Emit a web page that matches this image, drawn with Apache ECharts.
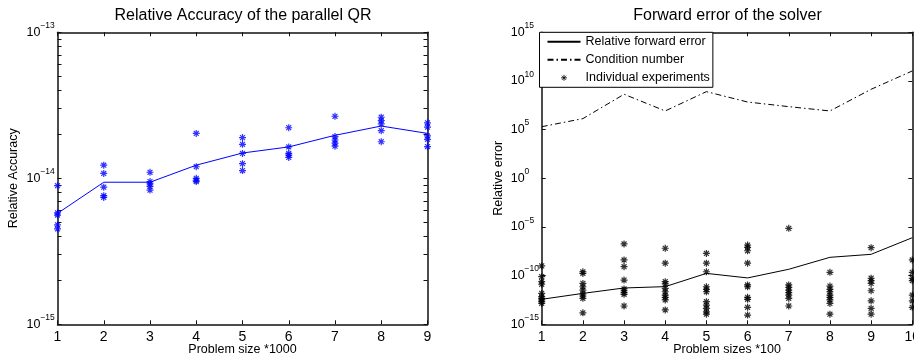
<!DOCTYPE html>
<html><head><meta charset="utf-8">
<script src="https://cdn.jsdelivr.net/npm/echarts@6/dist/echarts.min.js"></script>
<style>html,body{margin:0;padding:0;background:#fff}#c{width:914px;height:360px}</style>
</head><body><div id="c"></div>
<script>
// ---- data (left: parallel QR accuracy) ----
const leftSizes = [1, 2, 3, 4, 5, 6, 7, 8, 9];
const leftMean = [5.75e-15, 9.4e-15, 9.4e-15, 1.23e-14, 1.49e-14, 1.64e-14, 1.97e-14, 2.28e-14, 2.03e-14];
const leftRuns = [
  [8.9e-15, 5.8e-15, 5.6e-15, 4.8e-15, 4.5e-15],
  [1.23e-14, 1.08e-14, 8.7e-15, 7.6e-15, 7.4e-15],
  [1.10e-14, 9.5e-15, 9.15e-15, 8.8e-15, 8.3e-15],
  [2.03e-14, 1.20e-14, 1.0e-14, 9.7e-15, 9.5e-15],
  [1.90e-14, 1.71e-14, 1.48e-14, 1.26e-14, 1.13e-14],
  [2.22e-14, 1.64e-14, 1.48e-14, 1.44e-14, 1.39e-14],
  [2.66e-14, 1.93e-14, 1.83e-14, 1.74e-14, 1.66e-14],
  [2.62e-14, 2.48e-14, 2.36e-14, 2.12e-14, 1.78e-14],
  [2.40e-14, 2.24e-14, 1.95e-14, 1.85e-14, 1.65e-14]
];
const leftYLabels = [1e-15, 1e-14, 1e-13];

// ---- data (right: forward error of the solver) ----
const rightSizes = [1, 2, 3, 4, 5, 6, 7, 8, 9, 10];
const rightForward = [3.7e-13, 1.5e-12, 5.4e-12, 7.4e-12, 1.7e-10, 5.8e-11, 4.5e-10, 7.6e-9, 1.55e-8, 7.9e-7];
const rightCond = [2.0e5, 1.35e6, 4.3e8, 8.3e6, 8.0e8, 6.9e7, 2.3e7, 8.3e6, 1.4e9, 1.07e11];
const rightRuns = [
  [1.0e-9, 7.8e-11, 2.4e-11, 1.3e-11, 1.5e-12, 6.9e-13, 4.7e-13, 3.2e-13, 2.1e-13, 1.4e-13],
  [2.5e-10, 1.7e-10, 1.6e-11, 7.2e-12, 3.3e-12, 1.3e-12, 8.1e-13, 4.7e-13, 1.5e-14],
  [1.8e-7, 4.1e-9, 8.3e-10, 3.5e-11, 4.3e-12, 2.8e-12, 1.8e-12, 1.2e-12, 7.6e-14],
  [6.5e-8, 1.9e-9, 2.4e-11, 1.4e-11, 5.0e-12, 2.2e-12, 1.0e-12, 5.9e-13, 3.2e-13, 3.0e-14],
  [1.9e-8, 1.9e-9, 2.5e-10, 7.2e-12, 3.9e-12, 2.2e-12, 2.1e-13, 9.5e-14, 4.4e-14, 1.9e-14, 1.1e-14],
  [1.4e-7, 8.1e-8, 3.6e-8, 1.9e-9, 1.1e-11, 7.2e-12, 5.9e-13, 3.7e-13, 5.6e-14, 8.9e-15],
  [7.2e-6, 1.1e-11, 6.3e-12, 3.3e-12, 1.8e-12, 1.0e-12, 4.7e-13, 7.6e-14],
  [2.2e-10, 8.5e-12, 3.9e-12, 2.2e-12, 1.0e-12, 5.9e-13, 3.2e-13, 1.4e-13, 1.1e-14],
  [7.4e-8, 5.4e-11, 3.0e-11, 1.6e-11, 2.8e-12, 2.6e-13, 4.4e-14, 1.1e-14],
  [4.1e-9, 2.2e-10, 5.4e-11, 3.0e-11, 1.0e-12, 2.6e-13, 5.6e-14]
];
const rightYLabels = [1e-15, 1e-10, 1e-5, 1, 1e5, 1e10, 1e15];

const seriesNames = ['Relative forward error', 'Condition number', 'Individual experiments'];

// ---- build ----
const FONT = '"Liberation Sans", Arial, Helvetica, sans-serif';
const STAR = 'path://M0 0M20 20M10 5L10 15M5 10L15 10M6.5 6.5L13.5 13.5M6.5 13.5L13.5 6.5';

const leftMinor = [];
for (let i = 0; i < leftYLabels.length - 1; i++) {
  for (let k = 1; k <= 9; k++) leftMinor.push(k * leftYLabels[i]);
}
leftMinor.push(leftYLabels[leftYLabels.length - 1]);

function expLabel(v) {
  const e = Math.round(Math.log10(v));
  return '{b|10}{e|' + (e < 0 ? '\u2212' + (-e) : String(e)) + '}';
}
const labelRich = {
  b: { fontSize: 12.5, lineHeight: 22, color: '#000', fontFamily: FONT },
  e: { fontSize: 8.5, lineHeight: 8, verticalAlign: 'top', color: '#000', fontFamily: FONT }
};

const axisLine = { show: true, onZero: false, lineStyle: { color: '#111', width: 1.5 } };
const tick = (extra) => Object.assign({ show: true, inside: true, length: 4, lineStyle: { color: '#111', width: 1 } }, extra || {});

function xAxes(grid, max, name) {
  return [
    { gridIndex: grid, type: 'value', position: 'bottom', min: 1, max: max, interval: 1,
      axisLine, axisTick: tick(), splitLine: { show: false },
      axisLabel: { fontSize: 14, color: '#000', fontFamily: FONT, margin: 6 },
      name: name, nameLocation: 'middle', nameGap: 19, nameMoveOverlap: false,
      nameTextStyle: { fontSize: 12.5, color: '#000', fontFamily: FONT } },
    { gridIndex: grid, type: 'value', position: 'top', min: 1, max: max, interval: 1,
      axisLine, axisTick: tick(), splitLine: { show: false }, axisLabel: { show: false } }
  ];
}
function yAxes(grid, min, max, labels, ticks, name) {
  return [
    { gridIndex: grid, type: 'log', logBase: 10, position: 'left', min: min, max: max,
      axisLine, axisTick: tick({ customValues: ticks }), splitLine: { show: false }, minorTick: { show: false },
      axisLabel: { customValues: labels, formatter: expLabel, rich: labelRich, align: 'left', margin: 31,
        interval: 0, showMaxLabel: true, showMinLabel: true, hideOverlap: false },
      name: name, nameLocation: 'middle', nameGap: 37, nameMoveOverlap: false,
      nameTextStyle: { fontSize: 12.5, color: '#000', fontFamily: FONT } },
    { gridIndex: grid, type: 'log', logBase: 10, position: 'right', min: min, max: max,
      axisLine, axisTick: tick({ customValues: ticks }), splitLine: { show: false },
      axisLabel: { show: false } }
  ];
}

const leftScatter = [];
leftRuns.forEach((arr, i) => arr.forEach(v => leftScatter.push([leftSizes[i], v])));
const rightScatter = [];
rightRuns.forEach((arr, i) => arr.forEach(v => rightScatter.push([rightSizes[i], v])));

const hiddenSymbol = { color: 'transparent', borderColor: 'transparent', borderWidth: 0, opacity: 0 };

const option = {
  animation: false,
  backgroundColor: '#fff',
  textStyle: { fontFamily: FONT },
  title: [
    { text: 'Relative Accuracy of the parallel QR', left: 243, textAlign: 'center', top: 8, padding: 0,
      textStyle: { fontSize: 16, fontWeight: 'normal', color: '#000', fontFamily: FONT } },
    { text: 'Forward error of the solver', left: 727.5, textAlign: 'center', top: 8, padding: 0,
      textStyle: { fontSize: 16, fontWeight: 'normal', color: '#000', fontFamily: FONT } }
  ],
  grid: [
    { left: 57.5, top: 32.3, width: 370, height: 292, containLabel: false, outerBoundsMode: 'none' },
    { left: 541.7, top: 32.3, width: 370.6, height: 292, containLabel: false, outerBoundsMode: 'none' }
  ],
  legend: {
    orient: 'vertical', left: 539.5, top: 32.3, z: 10,
    backgroundColor: '#fff', borderColor: '#000', borderWidth: 1,
    padding: [3, 3, 3, 7], itemWidth: 33, itemHeight: 12, itemGap: 5,
    selectedMode: false,
    textStyle: { fontSize: 12.5, color: '#000', fontFamily: FONT },
    data: [
      { name: seriesNames[0], itemStyle: hiddenSymbol },
      { name: seriesNames[1], itemStyle: hiddenSymbol },
      { name: seriesNames[2], itemStyle: { color: '#000', borderColor: '#000', borderWidth: 1 } }
    ]
  },
  xAxis: [].concat(xAxes(0, 9, 'Problem size *1000'), xAxes(1, 10, 'Problem sizes *100')),
  yAxis: [].concat(
    yAxes(0, 1e-15, 1e-13, leftYLabels, leftMinor, 'Relative Accuracy'),
    yAxes(1, 1e-15, 1.0001e15, rightYLabels, rightYLabels, 'Relative error')
  ),
  series: [
    { name: 'Mean accuracy', type: 'line', xAxisIndex: 0, yAxisIndex: 0,
      data: leftSizes.map((x, i) => [x, leftMean[i]]), symbol: 'none',
      lineStyle: { color: '#0000ff', width: 1 }, itemStyle: { color: '#0000ff' } },
    { name: 'Runs', type: 'scatter', xAxisIndex: 0, yAxisIndex: 0, data: leftScatter,
      symbol: STAR, symbolSize: 14,
      itemStyle: { color: '#0000ff', borderColor: '#0000ff', borderWidth: 1.2 } },
    { name: seriesNames[0], type: 'line', xAxisIndex: 2, yAxisIndex: 2,
      data: rightSizes.map((x, i) => [x, rightForward[i]]), symbol: 'none',
      lineStyle: { color: '#000', width: 1 }, itemStyle: { color: '#000' } },
    { name: seriesNames[1], type: 'line', xAxisIndex: 2, yAxisIndex: 2,
      data: rightSizes.map((x, i) => [x, rightCond[i]]), symbol: 'none',
      lineStyle: { color: '#000', width: 1, type: [6, 3, 1.5, 3] }, itemStyle: { color: '#000' } },
    { name: seriesNames[2], type: 'scatter', xAxisIndex: 2, yAxisIndex: 2, data: rightScatter,
      symbol: STAR, symbolSize: 14, clip: false,
      itemStyle: { color: '#000', borderColor: '#000', borderWidth: 1.2 } }
  ]
};

const chart = echarts.init(document.getElementById('c'), null, { renderer: 'canvas' });
chart.setOption(option);
</script>
</body></html>
